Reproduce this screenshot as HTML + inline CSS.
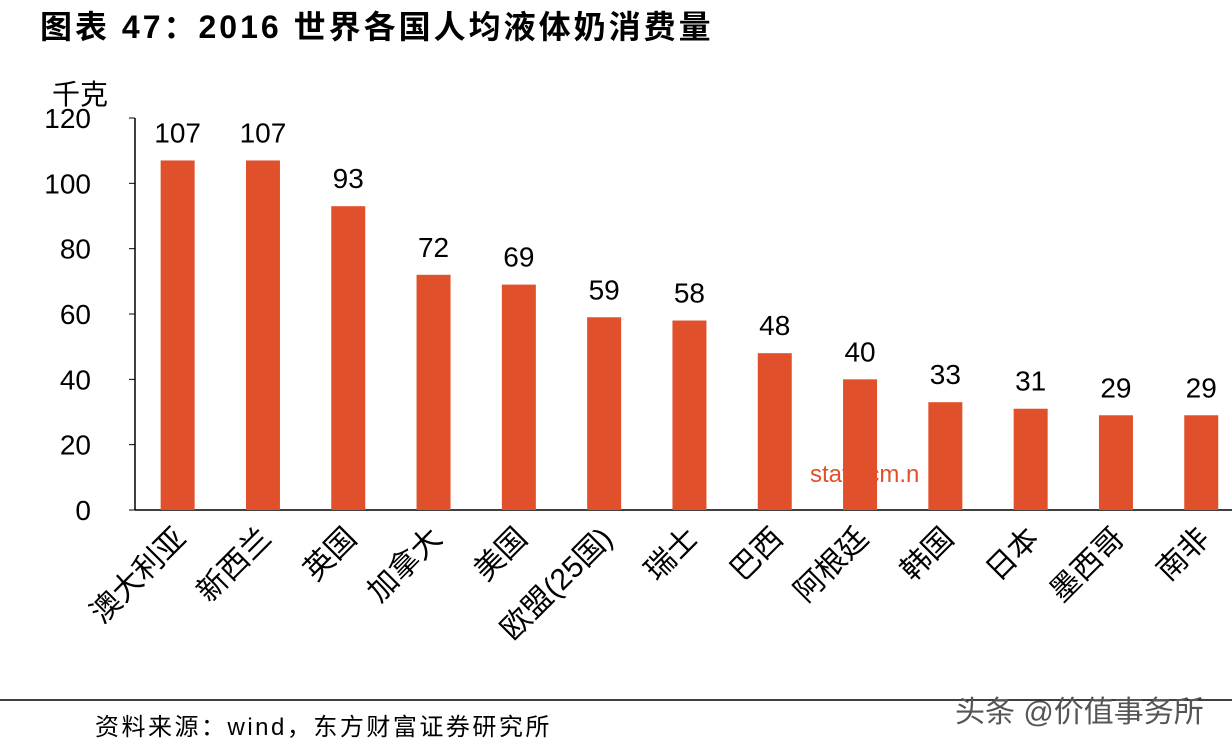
<!DOCTYPE html>
<html><head><meta charset="utf-8">
<style>
body{margin:0;width:1232px;height:750px;background:#fff;overflow:hidden;font-family:"Liberation Sans","Noto Sans CJK SC",sans-serif;}
</style></head><body>
<svg id="c" width="1232" height="750" xmlns="http://www.w3.org/2000/svg">
<text x="40" y="38" font-size="32" font-weight="bold" letter-spacing="3" font-family="Liberation Sans,Noto Sans CJK SC,sans-serif">图表 47：2016 世界各国人均液体奶消费量</text>
<text x="52" y="104" font-size="28" font-family="Liberation Sans,Noto Sans CJK SC,sans-serif">千克</text>
<text x="810" y="482" font-size="24" fill="#e0502a" font-family="Liberation Sans,sans-serif">stats.cm.n</text>
<g id="plot"></g>
<line x1="0" y1="700" x2="1232" y2="700" stroke="#000" stroke-width="1.5"/>
<text x="95" y="735" font-size="24" letter-spacing="2.5" font-family="Liberation Sans,Noto Sans CJK SC,sans-serif">资料来源：wind，东方财富证券研究所</text>
<text x="955" y="722" font-size="30" fill="#555" font-family="Liberation Sans,Noto Sans CJK SC,sans-serif">头条 @价值事务所</text>
</svg>
<script>
const categories=["澳大利亚","新西兰","英国","加拿大","美国","欧盟(25国)","瑞士","巴西","阿根廷","韩国","日本","墨西哥","南非"];
const values=[107,107,93,72,69,59,58,48,40,33,31,29,29];
const yTicks=[0,20,40,60,80,100,120];
const NS="http://www.w3.org/2000/svg";
const g=document.getElementById("plot");
const x0=135,step=85.3,y0=510,yTop=118,bw=34;
const y=v=>y0-(v/120)*(y0-yTop);
const xc=i=>x0+step*(i+0.5);
function mk(t,a){const e=document.createElementNS(NS,t);for(const k in a)e.setAttribute(k,a[k]);g.appendChild(e);return e;}
let ax=mk("line",{x1:x0,y1:yTop,x2:x0,y2:y0,stroke:"#000","stroke-width":1.5});


let bx=mk("line",{x1:x0,y1:y0,x2:x0+step*categories.length,y2:y0,stroke:"#000","stroke-width":1.5});


yTicks.forEach(t=>{
 const l=mk("line",{x1:x0-6,y1:y(t),x2:x0,y2:y(t),stroke:"#000"});
 
 
 const tx=mk("text",{x:x0-44,y:y(t)+10,"font-size":28,"text-anchor":"end"});
 tx.textContent=t;
 
 
});
categories.forEach((c,i)=>{
 const v=values[i];
 const r=mk("rect",{x:xc(i)-bw/2,y:y(v),width:bw,height:y0-y(v),fill:"#e0502a"});
 
 
 const vl=mk("text",{x:xc(i),y:y(v)-18,"font-size":28,"text-anchor":"middle"});
 vl.textContent=v;
 
 
 const xl=mk("text",{x:0,y:0,"font-size":30,"text-anchor":"end",transform:`translate(${xc(i)+10},${y0+30}) rotate(-45)`});
 xl.textContent=c;
 
 
});
</script>
</body></html>
